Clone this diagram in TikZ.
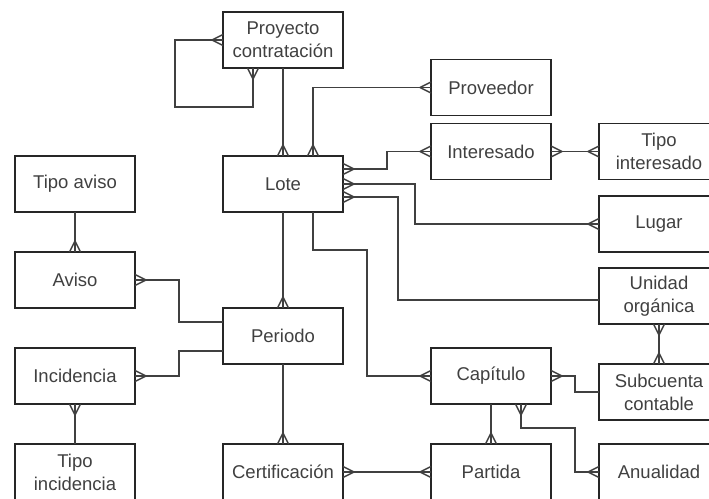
\documentclass[tikz,border=0pt]{standalone}
\usepackage{fontspec}
\setmainfont{Liberation Sans}
\usepackage{tikz}
\usetikzlibrary{positioning}

% pata de gallo (muchos)
\pgfdeclarearrow{
  name = crow,
  setup code = {
    \pgfarrowssettipend{0pt}
    \pgfarrowssetlineend{0pt}
    \pgfarrowssetvisualtipend{0pt}
    \pgfarrowssetbackend{-11pt}
    \pgfarrowshullpoint{0pt}{5.5pt}
    \pgfarrowshullpoint{0pt}{-5.5pt}
    \pgfarrowshullpoint{-11pt}{0pt}
  },
  drawing code = {
    \pgfsetroundjoin
    \pgfpathmoveto{\pgfqpoint{0pt}{5.5pt}}
    \pgfpathlineto{\pgfqpoint{-11pt}{0pt}}
    \pgfpathlineto{\pgfqpoint{0pt}{-5.5pt}}
    \pgfusepathqstroke
  }
}

\begin{document}
\begin{tikzpicture}[x=1pt,y=-1pt]

                \tikzstyle{entity}=[draw=black!85,line width=1.3pt,rectangle,minimum width=120pt,minimum height=56pt,inner sep=0pt,outer sep=0pt,align=center,text=black!75,font=\fontsize{18.5}{23}\selectfont]
                \tikzstyle{rel}=[draw=black!75,line width=1.5pt]

                \useasboundingbox (0,0) rectangle (709,498);
                \clip (0,0) rectangle (709,498);

                % columna central
                \node [entity] (lote) at (283,184) {Lote};
                \node [entity] (proyecto) at (283,40) {Proyecto\\contratación};
                \node [entity] (periodo) at (283,336) {Periodo};
                \node [entity] (certificacion) at (283,472) {Certificación};

                % columna izquierda
                \node [entity,left=88pt of lote] (tipoaviso) {Tipo aviso};
                \node [entity,below=40pt of tipoaviso] (aviso) {Aviso};
                \node [entity,below=40pt of aviso] (incidencia) {Incidencia};
                \node [entity,below=40pt of incidencia] (tipoincidencia) {Tipo\\incidencia};

                % columnas derechas
                \node [entity] (proveedor) at (491,87.5) {Proveedor};
                \node [entity,below=8pt of proveedor] (interesado) {Interesado};
                \node [entity,right=48pt of interesado] (tipointeresado) {Tipo\\interesado};
                \node [entity] (lugar) at (659,224) {Lugar};
                \node [entity] (subcuenta) at (659,392) {Subcuenta\\contable};
                \node [entity,above=40pt of subcuenta] (unidad) {Unidad\\orgánica};
                \node [entity] (capitulo) at (491,376) {Capítulo};
                \node [entity,right=88pt of certificacion] (partida) {Partida};
                \node [entity,right=48pt of partida] (anualidad) {Anualidad};

                % relaciones
                \draw[rel,crow-crow] (proyecto.west) -- ++(-48,0) -- ++(0,67) -| ([xshift=-30pt]proyecto.south);
                \draw[rel,-crow] (proyecto.south) -- (lote.north);
                \draw[rel,crow-crow] (proveedor.west) -| ([xshift=30pt]lote.north);
                \draw[rel,crow-crow] ([yshift=15pt]lote.east) -- ++(44,0) |- (interesado.west);
                \draw[rel,crow-crow] (interesado.east) -- (tipointeresado.west);
                \draw[rel,crow-crow] (lote.east) -- ++(72,0) |- (lugar.west);
                \draw[rel,crow-] ([yshift=-13pt]lote.east) -- ++(55,0) |- ([yshift=-4pt]unidad.west);
                \draw[rel,crow-crow] (unidad.south) -- (subcuenta.north);
                \draw[rel,-crow] (lote.south) -- (periodo.north);
                \draw[rel,-crow] ([xshift=30pt]lote.south) -- ++(0,38) -- ++(54,0) |- (capitulo.west);
                \draw[rel,-crow] (tipoaviso.south) -- (aviso.north);
                \draw[rel,crow-] (aviso.east) -- ++(44,0) |- ([yshift=14pt]periodo.west);
                \draw[rel,crow-] (incidencia.east) -- ++(44,0) |- ([yshift=-15pt]periodo.west);
                \draw[rel,crow-] (incidencia.south) -- (tipoincidencia.north);
                \draw[rel,-crow] (periodo.south) -- (certificacion.north);
                \draw[rel,crow-crow] (certificacion.east) -- (partida.west);
                \draw[rel,-crow] (capitulo.south) -- (partida.north);
                \draw[rel,crow-crow] ([xshift=30pt]capitulo.south) -- ++(0,24) -- ++(54,0) |- (anualidad.west);
                \draw[rel,crow-] (capitulo.east) -- ++(24,0) |- (subcuenta.west);

            \end{tikzpicture}
\end{document}
